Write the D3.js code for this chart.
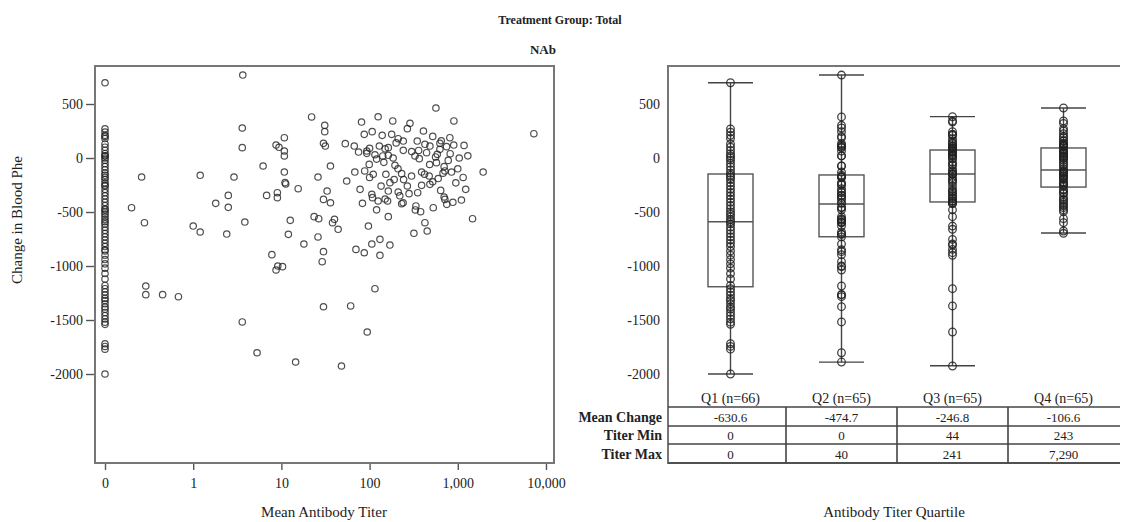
<!DOCTYPE html>
<html>
<head>
<meta charset="utf-8">
<script src="https://cdn.jsdelivr.net/npm/d3@7"></script>
<style>
  body { margin: 0; background: #fff; }
  svg text { font-family: "Liberation Serif", "DejaVu Serif", serif; fill: #222; }
</style>
</head>
<body>
<svg id="chart" width="1121" height="522"></svg>
<script>
// titer 0 group (Q1): change in blood Phe
var q1Change = [697, 270, 240, 210, 180, 130, 100, 70, 40, 20, 0, -20, -50, -80, -110, -140,
  -160, -180, -200, -230, -260, -290, -320, -350, -380, -410, -440, -470, -500, -520, -545, -570, -590,
  -610, -640, -670, -700, -730, -760, -790, -820, -860, -900, -940, -980, -1020, -1070, -1120, -1180,
  -1210, -1240, -1270, -1300, -1320, -1350, -1380, -1400, -1430, -1460, -1490, -1520, -1540, -1720, -1745, -1770, -2000];

// [mean titer, change]
var q2Points = [[0,200],[0,20],[0,-250],[0,-480],[0,-850],
  [0.2,-460],[0.26,-176],[0.28,-599],[0.29,-1185],[0.29,-1265],[0.45,-1265],[0.68,-1284],
  [1.0,-630],[1.2,-160],[1.2,-685],[1.8,-420],[2.4,-704],[2.5,-346],[2.5,-457],[2.9,-176],
  [3.6,278],[3.6,96],[3.6,-1518],[3.65,768],[3.85,-593],[5.3,-1803],[6.2,-74],[6.8,-346],
  [7.8,-895],[8.7,120],[8.7,-1037],[9.0,-321],[9.0,-367],[9.1,-1000],[9.4,99],[10.3,-1006],
  [10.8,188],[10.8,65],[10.8,19],[10.8,-130],[11,-228],[11.2,-240],[12,-707],[12.6,-577],
  [14.5,-1889],[15.5,-284],[18,-796],[22,380],[23.5,-543],[26,-176],[26,-731],[26.5,-562],
  [29,-960],[30,136],[30,-383],[30,-867],[30,-1377],[31,303],[31,244],[31.5,111],[33,-306],
  [36,-74],[36,-414],[38,-599],[40,-568]];

var q3Points = [[44,-660],[48,-1926],[53,133],[55,-213],[61,-1370],[67,111],[68,-130],[70,-846],[75,55],[78,-290],
  [81,333],[83,-420],[87,219],[87,-877],[88,-120],[93,65],[93,43],[94,-1611],[97,-630],[99,-59],
  [100,90],[100,-180],[106,-336],[106,-796],[107,244],[108,-367],[110,-151],[115,30],[115,-1210],[120,-10],
  [120,-480],[125,382],[125,-398],[129,111],[131,-753],[131,-901],[135,-260],[139,210],[141,19],[145,-40],
  [150,85],[150,-380],[153,-151],[160,-398],[163,96],[163,25],[163,-306],[163,-543],[170,-228],[170,-806],
  [178,219],[183,343],[185,0],[190,-200],[194,-68],[200,140],[210,-100],[211,179],[211,-315],[220,-350],
  [231,-145],[231,-423],[240,-414],[241,157],[241,71]];

var q4Points = [[243,-200],[268,272],[268,-259],[280,-330],[287,321],[299,-167],[300,60],[318,-697],[327,19],[330,-481],
  [335,-444],[347,157],[351,-321],[360,70],[366,-6],[379,-497],[389,-130],[389,-253],[408,250],[420,-150],
  [424,127],[424,-599],[443,49],[450,-676],[474,-167],[480,-60],[483,111],[483,-244],[520,200],[520,-220],
  [527,-460],[560,10],[565,463],[573,-43],[585,34],[600,-190],[627,136],[627,80],[640,-300],[650,160],
  [680,-140],[700,-80],[700,-361],[714,-120],[714,-383],[746,105],[750,-429],[779,-22],[813,188],[820,40],
  [850,-130],[880,-410],[900,120],[903,343],[950,-230],[1000,-100],[1038,0],[1100,-389],[1150,-180],[1178,117],
  [1230,-290],[1300,20],[1470,-562],[1940,-130],[7290,225]];

// box plot stats per quartile
var quartiles = ["Q1 (n=66)", "Q2 (n=65)", "Q3 (n=65)", "Q4 (n=65)"];
var boxHigh = [697, 768, 383, 463];
var boxQ3 = [-148, -157, 74, 93];
var boxMed = [-590, -426, -148, -111];
var boxQ1 = [-1192, -729, -407, -269];
var boxLow = [-2000, -1890, -1923, -694];

// table under the box plot
var rowLabels = ["Mean Change", "Titer Min", "Titer Max"];
var meanChange = ["-630.6", "-474.7", "-246.8", "-106.6"];
var titerMin = ["0", "0", "44", "243"];
var titerMax = ["0", "40", "241", "7,290"];

var yTicks = [500, 0, -500, -1000, -1500, -2000];
var xTicks = [0.1, 1, 10, 100, 1000, 10000];

var svg = d3.select("#chart");
var plotTop = 66, plotBottom = 463;
// plain hyphen for negatives, like the original
var plainFmt = function(d) { return String(d); };

// titles
svg.append("text").attr("x", 560).attr("y", 24).attr("text-anchor", "middle")
  .style("font-size", "12px").style("font-weight", "bold").text("Treatment Group: Total");
svg.append("text").attr("x", 543).attr("y", 54).attr("text-anchor", "middle")
  .style("font-size", "13px").style("font-weight", "bold").text("NAb");

var yScale = d3.scaleLinear().domain([-2824, 852]).range([plotBottom, plotTop]);

// ---------- left scatter ----------
var sLeft = 95, sRight = 554;
var xScale = d3.scaleLog().domain([0.077, 12330]).range([sLeft, sRight]);
// zero titer drawn on the "0" tick (0.1 position)
var xPos = function(t) { return xScale(t > 0 ? t : 0.1); };

var scatter = [];
q1Change.forEach(function(v) { scatter.push([0, v]); });
[q2Points, q3Points, q4Points].forEach(function(arr) {
  arr.forEach(function(p) { scatter.push(p); });
});

var yAxisL = d3.axisLeft(yScale).tickValues(yTicks).tickSize(9).tickPadding(3)
  .tickFormat(plainFmt);
var gyl = svg.append("g").attr("transform", "translate(" + sLeft + ",0)").call(yAxisL);
gyl.select(".domain").remove();

var xAxis = d3.axisBottom(xScale).tickValues(xTicks).tickSize(7).tickPadding(8)
  .tickFormat(function(d) { return d < 1 ? "0" : d3.format(",")(d); });
var gx = svg.append("g").attr("transform", "translate(0," + plotBottom + ")").call(xAxis);
gx.select(".domain").remove();

[gyl, gx].forEach(function(g) {
  g.selectAll("line").attr("stroke", "#555").attr("stroke-width", 1.4);
  g.selectAll("text").style("font-size", "14px").attr("fill", "#333");
});

svg.append("rect").attr("x", sLeft).attr("y", plotTop)
  .attr("width", sRight - sLeft).attr("height", plotBottom - plotTop)
  .attr("fill", "none").attr("stroke", "#777").attr("stroke-width", 2);

svg.append("g").selectAll("circle").data(scatter).enter().append("circle")
  .attr("cx", function(d) { return xPos(d[0]); })
  .attr("cy", function(d) { return yScale(d[1]); })
  .attr("r", 3.2)
  .attr("fill", "none").attr("stroke", "#222").attr("stroke-opacity", 0.8).attr("stroke-width", 1.2);

svg.append("text").attr("x", 324).attr("y", 517).attr("text-anchor", "middle")
  .style("font-size", "15px").text("Mean Antibody Titer");
svg.append("text").attr("transform", "translate(22,220) rotate(-90)").attr("text-anchor", "middle")
  .style("font-size", "15px").text("Change in Blood Phe");

// ---------- right box plot ----------
var bLeft = 668, bRight = 1120;
var xBand = d3.scaleBand().domain(quartiles).range([675, 1119]);
var cx = function(i) { return xBand(quartiles[i]) + xBand.bandwidth() / 2; };
var boxW = 45;

var yAxisR = d3.axisLeft(yScale).tickValues(yTicks).tickSize(0).tickPadding(8)
  .tickFormat(plainFmt);
var gyr = svg.append("g").attr("transform", "translate(" + bLeft + ",0)").call(yAxisR);
gyr.select(".domain").remove();
gyr.selectAll("text").style("font-size", "14px").attr("fill", "#333");

svg.append("path")
  .attr("d", "M" + bRight + "," + plotTop + "H" + bLeft + "V" + plotBottom + "H" + bRight)
  .attr("fill", "none").attr("stroke", "#777").attr("stroke-width", 2);

var groups = [q1Change.map(function(v) { return [0, v]; }), q2Points, q3Points, q4Points];

quartiles.forEach(function(q, i) {
  var g = svg.append("g");
  var c = cx(i);
  // whisker
  g.append("line").attr("x1", c).attr("x2", c)
    .attr("y1", yScale(boxHigh[i])).attr("y2", yScale(boxLow[i]))
    .attr("stroke", "#444").attr("stroke-width", 1.4);
  [boxHigh[i], boxLow[i]].forEach(function(v) {
    g.append("line").attr("x1", c - boxW / 2).attr("x2", c + boxW / 2)
      .attr("y1", yScale(v)).attr("y2", yScale(v))
      .attr("stroke", "#444").attr("stroke-width", 1.4);
  });
  g.append("rect").attr("x", c - boxW / 2).attr("y", yScale(boxQ3[i]))
    .attr("width", boxW).attr("height", yScale(boxQ1[i]) - yScale(boxQ3[i]))
    .attr("fill", "none").attr("stroke", "#555").attr("stroke-width", 1.4);
  g.append("line").attr("x1", c - boxW / 2).attr("x2", c + boxW / 2)
    .attr("y1", yScale(boxMed[i])).attr("y2", yScale(boxMed[i]))
    .attr("stroke", "#555").attr("stroke-width", 1.4);
  g.selectAll("circle").data(groups[i]).enter().append("circle")
    .attr("cx", c).attr("cy", function(d) { return yScale(d[1]); })
    .attr("r", 3.8)
    .attr("fill", "none").attr("stroke", "#222").attr("stroke-opacity", 0.85).attr("stroke-width", 1.3);
  g.append("text").attr("x", c).attr("y", 403).attr("text-anchor", "middle")
    .style("font-size", "14px").attr("fill", "#333").text(q);
});

// table
var rowY = [407, 426, 444, 463];
var rows = [meanChange, titerMin, titerMax];
rowY.forEach(function(y) {
  svg.append("line").attr("x1", bLeft).attr("x2", bRight).attr("y1", y).attr("y2", y)
    .attr("stroke", "#444").attr("stroke-width", 1.6);
});
quartiles.slice(1).forEach(function(q) {
  svg.append("line").attr("x1", xBand(q)).attr("x2", xBand(q))
    .attr("y1", rowY[0]).attr("y2", rowY[3])
    .attr("stroke", "#444").attr("stroke-width", 1.6);
});
rows.forEach(function(vals, r) {
  var ym = (rowY[r] + rowY[r + 1]) / 2 + 5;
  svg.append("text").attr("x", 662).attr("y", ym).attr("text-anchor", "end")
    .style("font-size", "14px").style("font-weight", "bold").text(rowLabels[r]);
  vals.forEach(function(v, i) {
    svg.append("text").attr("x", cx(i)).attr("y", ym).attr("text-anchor", "middle")
      .style("font-size", "13px").attr("fill", "#333").text(v);
  });
});

svg.append("text").attr("x", (bLeft + bRight) / 2).attr("y", 517).attr("text-anchor", "middle")
  .style("font-size", "15px").text("Antibody Titer Quartile");
</script>
</body>
</html>
